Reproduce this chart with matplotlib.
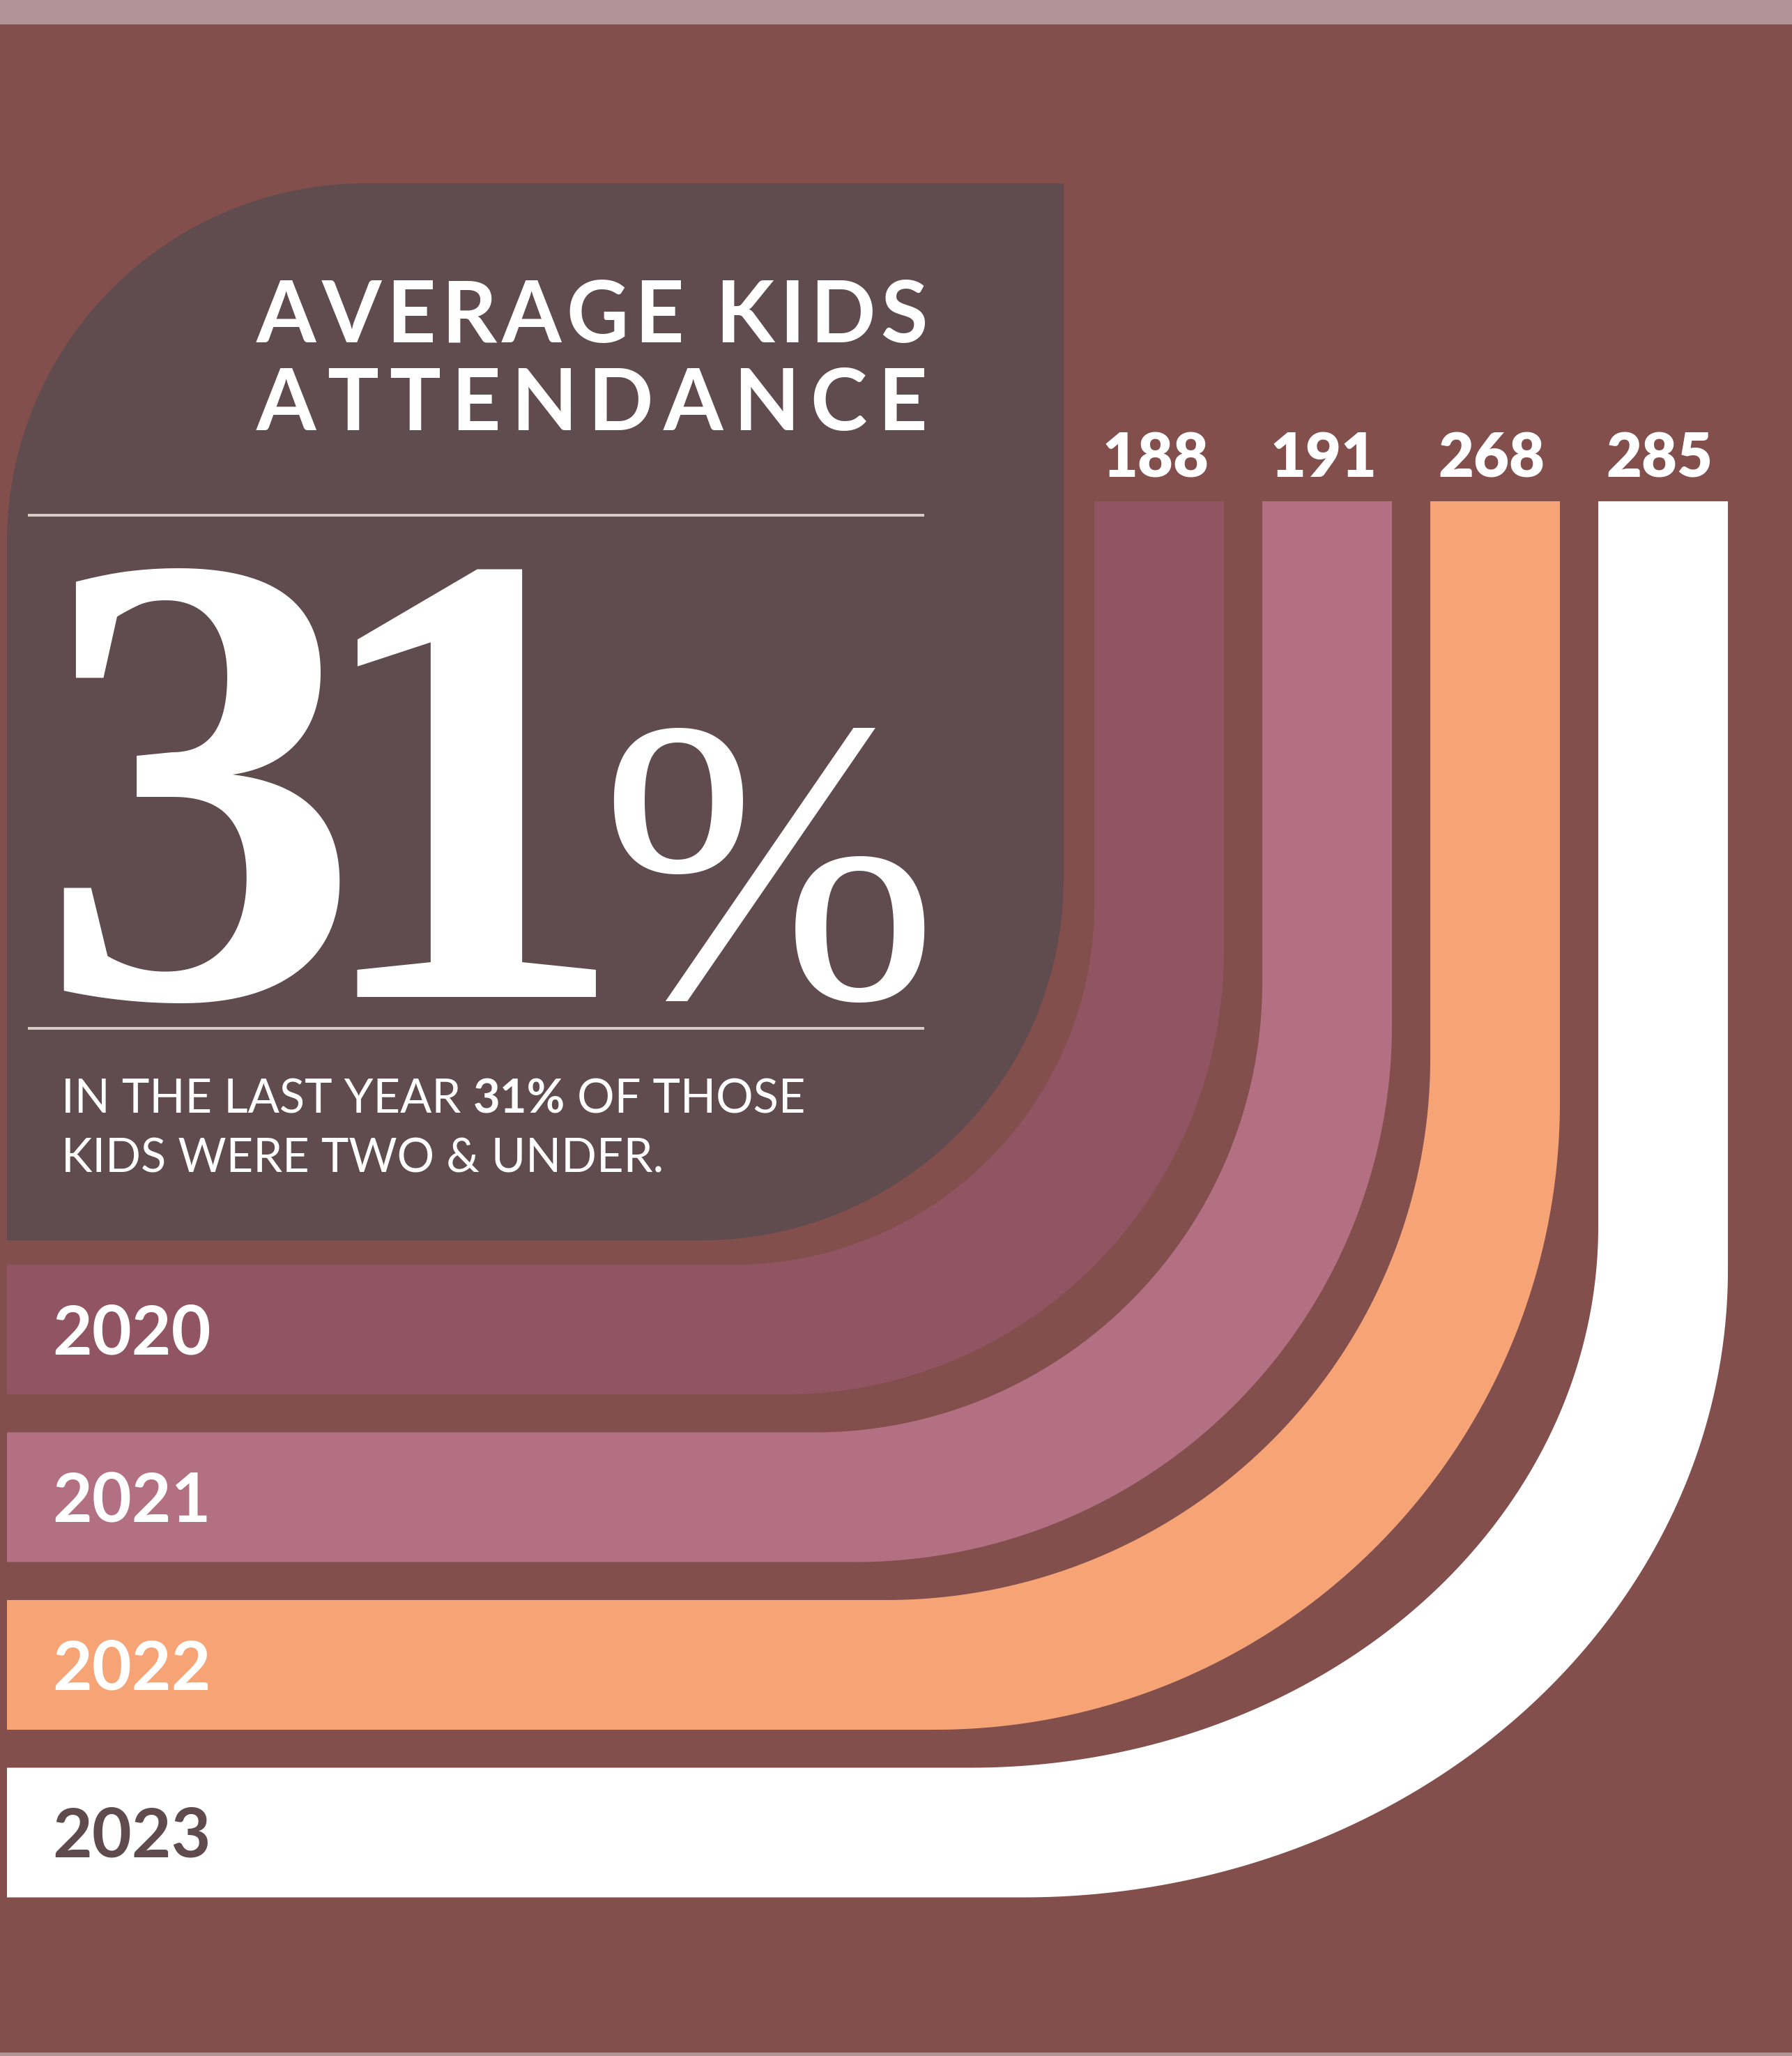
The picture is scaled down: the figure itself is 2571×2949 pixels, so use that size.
import numpy as np
import matplotlib
matplotlib.use("Agg")
import matplotlib.pyplot as plt
from matplotlib.patches import Polygon, Rectangle
from matplotlib.font_manager import FontProperties, findfont, get_font
from matplotlib.textpath import TextPath

# ---------------- data ----------------
years = ['2020', '2021', '2022', '2023']
attendance = [188, 191, 268, 285]
band_colors = ['#905463', '#B27082', '#F6A476', '#FFFFFF']
year_label_colors = ['#FFFFFF', '#FFFFFF', '#FFFFFF', '#5F4A4D']
title_lines = ['AVERAGE KIDS', 'ATTENDANCE']
headline_value = '31'
headline_unit = '%'
subtitle_line1 = [('IN THE LAST YEAR ', 'normal'), ('31%', 'bold'), (' OF THOSE', 'normal')]
subtitle_line2 = [('KIDS WERE TWO & UNDER.', 'normal')]

# ---------------- style / layout ----------------
W, H = 2571, 2949
DPI = 100
BG = '#824F4D'
STRIP = '#B39496'
BOX = '#604C4F'
RULE = '#D8CDC5'
plt.rcParams['font.family'] = ['Lato', 'DejaVu Sans']

fig = plt.figure(figsize=(W / DPI + 0.0005, H / DPI + 0.0005), dpi=DPI)
fig.patch.set_facecolor(BG)
ax = fig.add_axes([0, 0, 1, 1])
ax.set_xlim(0, W)
ax.set_ylim(H, 0)
ax.set_axis_off()
ax.set_facecolor(BG)


def pt(px):
    return px * 72.0 / DPI


def advances(s, prop, size_px):
    font = get_font(findfont(prop))
    font.set_size(pt(size_px), DPI)
    return [font.load_char(ord(c)).linearHoriAdvance / 65536.0 for c in s]


def spaced(x0, y, segments, size_px, spacing, color):
    x = x0
    for s, prop in segments:
        adv = advances(s, prop, size_px)
        for c, a in zip(s, adv):
            if c != ' ':
                ax.text(x, y, c, fontproperties=prop, fontsize=pt(size_px),
                        color=color, ha='left', va='baseline')
            x += a + spacing
    return x


def spacing_for(segments, size_px, target):
    n = sum(len(s) for s, _ in segments)
    total = sum(sum(advances(s, p, size_px)) for s, p in segments)
    return (target - total) / (n - 1)


def natural_width(segments, size_px):
    return sum(sum(advances(s, p, size_px)) for s, p in segments)


def segment_line(x0, y, segments, size_px, color):
    x = x0
    for s, prop in segments:
        ax.text(x, y, s, fontproperties=prop, fontsize=pt(size_px),
                color=color, ha='left', va='baseline')
        x += sum(advances(s, prop, size_px))
    return x


# top strip and bottom hairline
ax.add_patch(Rectangle((0, 0), W, 35, color=STRIP, lw=0))
ax.add_patch(Rectangle((0, H - 5), W, 5, color=STRIP, lw=0))

# dark box with two rounded corners
BX0, BY0, BX1, BY1 = 10, 263, 1526, 1779
r_tl, r_br = 515, 519
t = np.linspace(0, np.pi / 2, 120)
tl = np.column_stack([BX0 + r_tl - r_tl * np.cos(t), BY0 + r_tl - r_tl * np.sin(t)])
br = np.column_stack([BX1 - r_br + r_br * np.cos(t), BY1 - r_br + r_br * np.sin(t)])
box_pts = tl.tolist() + [(BX1, BY0)] + br.tolist() + [(BX0, BY1)]
ax.add_patch(Polygon(box_pts, closed=True, facecolor=BOX, edgecolor='none'))

# bands (L-shaped bars with curved corner)
BAR_TOP = 719
LEFT = 10
X_IN0, PITCH_X, BAND_W = 1570, 241, 186
Y_TOP0, PITCH_Y, BAND_H = 1814, 240.5, 186
r_in_x = [516, 642, 780, 900]
r_in_y = [517, 645, 777, 776]
r_out_x = [630, 770, 896, 1011]
r_out_y = [636, 770, 900, 900]

for i, (yr, val, col, lcol) in enumerate(zip(years, attendance, band_colors, year_label_colors)):
    x_in = X_IN0 + i * PITCH_X
    x_out = x_in + BAND_W
    y_top = Y_TOP0 + i * PITCH_Y
    y_bot = y_top + BAND_H
    cxi, cyi = x_in - r_in_x[i], y_top - r_in_y[i]
    inner = np.column_stack([cxi + r_in_x[i] * np.cos(t), cyi + r_in_y[i] * np.sin(t)])
    cxo, cyo = x_out - r_out_x[i], y_bot - r_out_y[i]
    outer = np.column_stack([cxo + r_out_x[i] * np.cos(t[::-1]), cyo + r_out_y[i] * np.sin(t[::-1])])
    pts = [(x_in, BAR_TOP)] + inner.tolist() + [(LEFT, y_top), (LEFT, y_bot)] + outer.tolist() + [(x_out, BAR_TOP)]
    ax.add_patch(Polygon(pts, closed=True, facecolor=col, edgecolor='none'))
    # value above the bar
    ax.text((x_in + x_out) / 2 - 5, 684, str(val), ha='center', va='baseline',
            fontsize=pt(88), fontweight='heavy', color='white')
    # year label on the horizontal part
    ax.text(75, (y_top + y_bot) / 2 + 35, yr, ha='left', va='baseline',
            fontsize=pt(98), fontweight='bold', color=lcol)

# title (letter-spaced)
title_prop = FontProperties(family=['Lato', 'DejaVu Sans'], weight='bold')
TSIZE = 123
for line, base, target in zip(title_lines, [491, 617], [963, 962]):
    segs = [(line, title_prop)]
    sp = spacing_for(segs, TSIZE, target)
    spaced(368, base, segs, TSIZE, sp, 'white')

# rules
for yy in (739, 1475):
    ax.plot([40, 1326], [yy, yy], color=RULE, lw=pt(4), solid_capstyle='butt')

# headline 31%
serif_b = FontProperties(family=['Liberation Serif', 'DejaVu Serif'], weight='bold')
serif_r = FontProperties(family=['Liberation Serif', 'DejaVu Serif'], weight='normal')


def ink(s, prop, size):
    return TextPath((0, 0), s, size=size, prop=prop).get_extents()


BASE = 1430
size_d = 100 * 625 / ink(headline_value[0], serif_b, 100).height
size_p = 100 * 395 / ink(headline_unit, serif_r, 100).height
pieces = [(headline_value[0], serif_b, size_d, 0),
          (headline_value[1], serif_b, size_d, 26),
          (headline_unit, serif_r, size_p, 26)]
x_cursor = 88
for c, prop, sz, g in pieces:
    e = ink(c, prop, sz)
    x_cursor += g
    ax.text(x_cursor - e.x0, BASE, c, fontproperties=prop, fontsize=pt(sz),
            color='white', ha='left', va='baseline')
    x_cursor += e.width

# subtitle
reg = FontProperties(family=['Lato', 'DejaVu Sans'], weight='normal')
bold = FontProperties(family=['Lato', 'DejaVu Sans'], weight='bold')
wmap = {'normal': reg, 'bold': bold}
segs1 = [(s, wmap[w]) for s, w in subtitle_line1]
segs2 = [(s, wmap[w]) for s, w in subtitle_line2]
SSIZE = 67
nat = natural_width(segs1, SSIZE)
if nat > 1068:
    SSIZE = SSIZE * 1068 / nat
segment_line(88, 1596, segs1, SSIZE, 'white')
segment_line(88, 1681, segs2, SSIZE, 'white')

fig.savefig('out.png', dpi=DPI, facecolor=BG)
